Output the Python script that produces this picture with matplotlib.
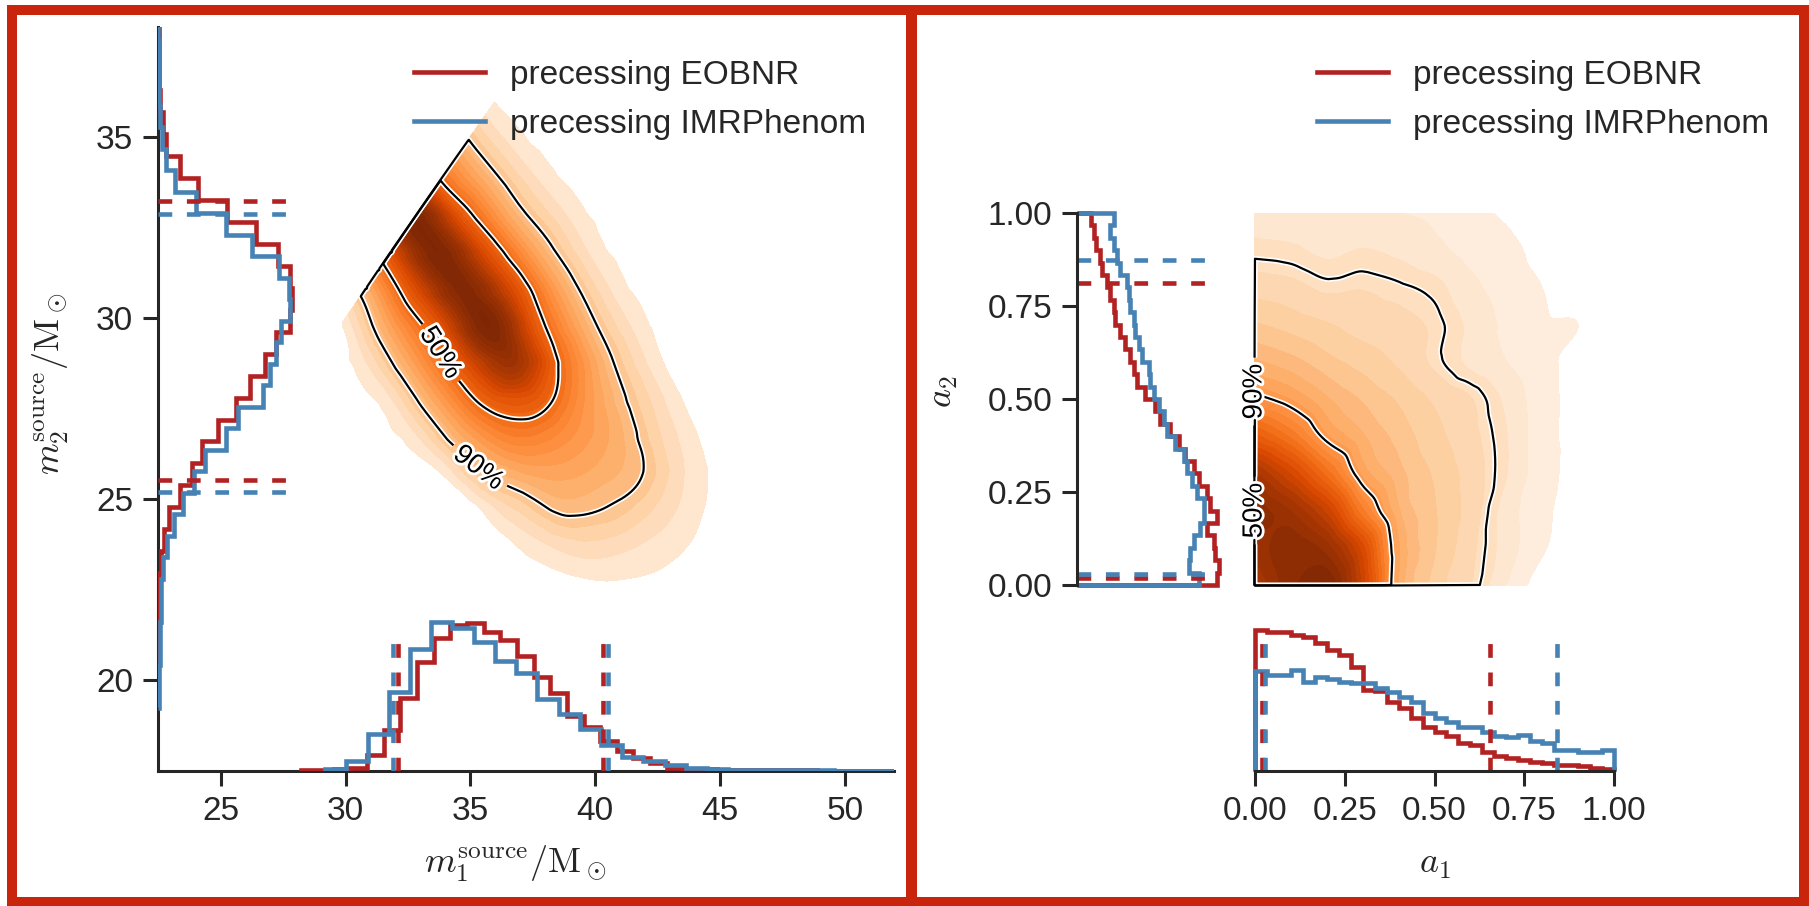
import numpy as np
import matplotlib
matplotlib.use("Agg")
import matplotlib.pyplot as plt
import matplotlib.tri as mtri
import matplotlib.patheffects as pe
from matplotlib.colors import PowerNorm
from matplotlib.lines import Line2D
from matplotlib.patches import Rectangle

plt.rcParams["font.family"] = ["Liberation Sans", "DejaVu Sans"]
plt.rcParams["mathtext.fontset"] = "cm"
plt.rcParams["font.size"] = 24

RED = "#B22222"
BLUE = "#4682B4"
INK = "#262626"
BORDER = "#C9250C"
labels = ["precessing EOBNR", "precessing IMRPhenom"]

# ---- masses: 1d histograms (counts) ----
m1_start_eob, m1_width_eob = 28.19, 0.667
m1_counts_eob = [2, 3, 5, 10, 47, 119, 212, 317, 387, 425, 432, 407, 382, 337,
                 275, 227, 162, 129, 87, 59, 37, 22, 10, 7, 5, 4, 3, 3, 2, 2,
                 2, 1, 1, 1, 1, 1]
m1_start_imr, m1_width_imr = 29.18, 0.85
m1_counts_imr = [5, 29, 109, 232, 357, 435, 417, 377, 322, 287, 209, 167, 122,
                 77, 42, 29, 17, 9, 5, 4, 3, 3, 2, 2, 1, 1, 1]
m2_start_eob, m2_width_eob = 19.32, 0.606
m2_counts_eob = [1, 1, 1, 2, 2, 3, 10, 17, 32, 65, 103, 133, 180, 235, 275, 320,
                 355, 395, 403, 395, 360, 293, 207, 120, 65, 25, 15, 6, 4, 3, 2]
m2_start_imr, m2_width_imr = 19.236, 0.594
m2_counts_imr = [3, 4, 5, 5, 10, 10, 15, 27, 47, 75, 107, 140, 203, 240, 315,
                 335, 355, 370, 397, 393, 362, 283, 203, 115, 50, 23, 13, 5, 4,
                 3, 2, 1]
m1_bounds_eob = [32.1, 40.3]
m1_bounds_imr = [31.9, 40.5]
m2_bounds_eob = [25.53, 33.23]
m2_bounds_imr = [25.21, 32.88]

# ---- masses: 2d density on a (m1+m2, m1-m2) grid, peak = 1 ----
msum_nodes = [57.5, 59.5, 61.5, 63.5, 65.5, 67.5, 69.5, 71.5, 73.5]
mdiff_nodes = [-2, 0, 2, 4, 6, 8, 10, 12, 14, 16, 18, 20, 22]
mass_density = [
    [0.00, 0.02, 0.22, 0.60, 1.00, 0.52, 0.22, 0.05, 0.00],
    [0.00, 0.02, 0.22, 0.60, 1.00, 0.52, 0.22, 0.05, 0.00],
    [0.00, 0.06, 0.28, 0.62, 1.00, 0.58, 0.24, 0.06, 0.00],
    [0.00, 0.06, 0.30, 0.60, 0.98, 0.62, 0.25, 0.07, 0.00],
    [0.00, 0.06, 0.30, 0.62, 1.00, 0.64, 0.27, 0.08, 0.00],
    [0.00, 0.03, 0.27, 0.56, 0.85, 0.55, 0.26, 0.07, 0.00],
    [0.00, 0.00, 0.20, 0.42, 0.56, 0.46, 0.22, 0.06, 0.00],
    [0.00, 0.00, 0.11, 0.28, 0.36, 0.32, 0.18, 0.05, 0.00],
    [0.00, 0.00, 0.06, 0.20, 0.26, 0.25, 0.14, 0.03, 0.00],
    [0.00, 0.00, 0.02, 0.10, 0.17, 0.19, 0.10, 0.02, 0.00],
    [0.00, 0.00, 0.00, 0.03, 0.07, 0.09, 0.06, 0.01, 0.00],
    [0.00, 0.00, 0.00, 0.00, 0.02, 0.03, 0.02, 0.00, 0.00],
    [0.00, 0.00, 0.00, 0.00, 0.00, 0.00, 0.00, 0.00, 0.00],
]
mass_levels = {"lowest": 0.03, "90%": 0.18, "50%": 0.50}

# ---- spins: 1d histograms (30 bins on [0, 1]) ----
a1_counts_eob = [423, 418, 417, 408, 403, 383, 363, 348, 313, 243, 240, 208,
                 188, 158, 133, 118, 106, 83, 78, 56, 46, 40, 33, 28, 23, 18,
                 18, 16, 8, 6]
a1_counts_imr = [300, 288, 288, 303, 268, 283, 276, 268, 263, 263, 250, 236,
                 223, 206, 173, 158, 146, 133, 133, 116, 106, 103, 108, 90, 83,
                 63, 63, 56, 56, 63]
a2_counts_eob = [420, 425, 415, 410, 390, 420, 400, 390, 365, 350, 325, 305,
                 280, 250, 235, 205, 180, 170, 160, 145, 130, 115, 110, 98, 90,
                 75, 70, 58, 50, 42]
a2_counts_imr = [365, 335, 340, 350, 370, 380, 380, 360, 345, 330, 320, 295,
                 270, 260, 245, 230, 220, 215, 195, 185, 175, 170, 160, 155,
                 150, 130, 120, 110, 100, 110]
a1_bounds_eob = [0.019, 0.654]
a1_bounds_imr = [0.028, 0.842]
a2_bounds_eob = [0.02, 0.811]
a2_bounds_imr = [0.03, 0.875]

# ---- spins: 2d density, rows a2 = 0..1, cols a1 = 0..1 ----
spin_nodes = [0.0, 0.1, 0.2, 0.3, 0.4, 0.5, 0.6, 0.7, 0.8, 0.9, 1.0]
spin_density = [
    [0.85, 0.95, 1.00, 0.75, 0.33, 0.20, 0.14, 0.06, 0.00, 0.00, 0.0],
    [0.90, 0.95, 0.90, 0.70, 0.34, 0.22, 0.15, 0.08, 0.025, 0.00, 0.0],
    [0.95, 0.88, 0.75, 0.50, 0.30, 0.22, 0.16, 0.08, 0.03, 0.005, 0.0],
    [0.85, 0.72, 0.55, 0.36, 0.27, 0.21, 0.16, 0.10, 0.035, 0.01, 0.0],
    [0.62, 0.52, 0.38, 0.30, 0.24, 0.19, 0.15, 0.10, 0.035, 0.01, 0.0],
    [0.42, 0.37, 0.30, 0.25, 0.21, 0.17, 0.14, 0.09, 0.035, 0.01, 0.0],
    [0.30, 0.27, 0.23, 0.20, 0.17, 0.13, 0.09, 0.06, 0.03, 0.01, 0.0],
    [0.22, 0.20, 0.18, 0.16, 0.15, 0.13, 0.09, 0.05, 0.025, 0.02, 0.0],
    [0.16, 0.15, 0.13, 0.135, 0.125, 0.11, 0.07, 0.04, 0.02, 0.005, 0.0],
    [0.11, 0.105, 0.09, 0.10, 0.09, 0.07, 0.045, 0.03, 0.01, 0.00, 0.0],
    [0.08, 0.075, 0.07, 0.07, 0.06, 0.05, 0.03, 0.015, 0.00, 0.00, 0.0],
]
spin_levels = {"lowest": 0.02, "90%": 0.12, "50%": 0.40}

W, H = 1809, 906
fig = plt.figure(figsize=(W / 100, H / 100), dpi=100)


def box(x0, x1, y0, y1):
    # pixel box (top-left origin) -> figure fraction rect
    return [x0 / W, 1 - y1 / H, (x1 - x0) / W, (y1 - y0) / H]


def edges(start, width, n):
    return start + width * np.arange(n + 1)


def grid_tri(xn, yn):
    ny, nx = xn.shape
    tris = []
    for j in range(ny - 1):
        for i in range(nx - 1):
            k = j * nx + i
            tris.append([k, k + 1, k + nx + 1])
            tris.append([k, k + nx + 1, k + nx])
    return mtri.Triangulation(xn.ravel(), yn.ravel(), np.array(tris))


def smooth(xn, yn, z, xf, yf):
    interp = mtri.CubicTriInterpolator(grid_tri(xn, yn), np.asarray(z).ravel(), kind="geom")
    return np.clip(interp(xf, yf).filled(0.0), 0, None)


def style_axis(a, show):
    for side in ["left", "right", "top", "bottom"]:
        a.spines[side].set_visible(side in show)
        a.spines[side].set_linewidth(2.2)
        a.spines[side].set_color(INK)
    a.tick_params(direction="out", length=10.8, width=2.2, color=INK,
                  labelcolor=INK, labelsize=24, pad=7)
    a.patch.set_alpha(0)


def density(a, X, Y, F, lv, gamma, manual):
    fill = list(np.linspace(lv["lowest"], 1.0, 26)) + [5.0]
    a.contourf(X, Y, F, levels=fill, cmap="Oranges",
               norm=PowerNorm(gamma, vmin=0, vmax=1), zorder=1)
    cs = a.contour(X, Y, F, levels=[lv["90%"], lv["50%"]], colors="k",
                   linewidths=1.6, zorder=3)
    cs.set_path_effects([pe.Stroke(linewidth=4.0, foreground="w"), pe.Normal()])
    cs.set_clip_on(False)
    txt = a.clabel(cs, fmt={lv["90%"]: "90%", lv["50%"]: "50%"}, manual=manual,
                   inline=True, fontsize=20, inline_spacing=6)
    for t in txt:
        t.set_path_effects([pe.withStroke(linewidth=4, foreground="w")])
        t.set_zorder(4)
        t.set_clip_on(False)
    return txt


LW = 3.3
dash = (0, (3.0, 3.2))
handles = [Line2D([], [], color=RED, lw=LW), Line2D([], [], color=BLUE, lw=LW)]

# ================= left panel: masses =================
ax = fig.add_axes(box(158, 894, 27, 771))
ax.set_xlim(22.48, 51.97)
ax.set_ylim(17.49, 38.04)
style_axis(ax, ["left", "bottom"])
ax.set_xticks([25, 30, 35, 40, 45, 50])
ax.set_yticks([20, 25, 30, 35])

U, V = np.meshgrid(msum_nodes, mdiff_nodes)
m1f, m2f = np.meshgrid(np.linspace(27, 47, 601), np.linspace(19, 38, 571))
Fm = smooth((U + V) / 2, (U - V) / 2, mass_density, m1f, m2f)
Fm[m2f > m1f] = 0.0
density(ax, m1f, m2f, Fm, mass_levels, 0.7, [(35.45, 25.96), (34.17, 29.17)])

ax_m1 = ax.twinx()
ax_m1.set_ylim(0, 2172)
ax_m1.axis("off")
ax_m1.stairs(m1_counts_eob, edges(m1_start_eob, m1_width_eob, len(m1_counts_eob)), color=RED, lw=LW)
ax_m1.vlines(m1_bounds_eob, 0, 410, colors=RED, linestyles=dash, lw=LW)
ax_m1.stairs(m1_counts_imr, edges(m1_start_imr, m1_width_imr, len(m1_counts_imr)), color=BLUE, lw=LW)
ax_m1.vlines(m1_bounds_imr, 0, 410, colors=BLUE, linestyles=dash, lw=LW)

ax_m2 = ax.twiny()
ax_m2.set_xlim(0, 2208)
ax_m2.axis("off")
ax_m2.stairs(m2_counts_eob, edges(m2_start_eob, m2_width_eob, len(m2_counts_eob)),
             orientation="horizontal", color=RED, lw=LW)
ax_m2.hlines(m2_bounds_eob, 0, 412, colors=RED, linestyles=dash, lw=LW)
ax_m2.stairs(m2_counts_imr, edges(m2_start_imr, m2_width_imr, len(m2_counts_imr)),
             orientation="horizontal", color=BLUE, lw=LW)
ax_m2.hlines(m2_bounds_imr, 0, 412, colors=BLUE, linestyles=dash, lw=LW)

ax.set_xlabel(r"$m_1^{\rm source}/{\rm M}_\odot$", fontsize=26, color=INK)
ax.xaxis.set_label_coords(0.486, -0.098)
ax.set_ylabel(r"$m_2^{\rm source}/{\rm M}_\odot$", fontsize=26, color=INK)
ax.yaxis.set_label_coords(-0.118, 0.52)

# ================= right panel: spins =================
ax_a2 = fig.add_axes(box(1077, 1227, 213, 585))
ax_a2.set_ylim(0, 1)
ax_a2.set_xlim(0, 450)
style_axis(ax_a2, ["left"])
ax_a2.set_xticks([])
ax_a2.set_yticks([0, 0.25, 0.5, 0.75, 1.0])
ax_a2.set_yticklabels(["%.2f" % t for t in [0, 0.25, 0.5, 0.75, 1.0]])
spin_edges = np.linspace(0, 1, len(a1_counts_eob) + 1)
ax_a2.stairs(a2_counts_eob, spin_edges, orientation="horizontal", color=RED, lw=LW, clip_on=False)
ax_a2.hlines(a2_bounds_eob, 0, 410, colors=RED, linestyles=dash, lw=LW)
ax_a2.stairs(a2_counts_imr, spin_edges, orientation="horizontal", color=BLUE, lw=LW, clip_on=False)
ax_a2.hlines(a2_bounds_imr, 0, 410, colors=BLUE, linestyles=dash, lw=LW)
ax_a2.set_ylabel(r"$a_2$", fontsize=26, color=INK)
ax_a2.yaxis.set_label_coords(-0.78, 0.52)

ax_a1 = fig.add_axes(box(1255, 1614, 621, 771))
ax_a1.set_xlim(0, 1)
ax_a1.set_ylim(0, 450)
style_axis(ax_a1, ["bottom"])
ax_a1.set_yticks([])
ax_a1.set_xticks([0, 0.25, 0.5, 0.75, 1.0])
ax_a1.set_xticklabels(["%.2f" % t for t in [0, 0.25, 0.5, 0.75, 1.0]])
ax_a1.stairs(a1_counts_eob, spin_edges, color=RED, lw=LW, clip_on=False)
ax_a1.vlines(a1_bounds_eob, 0, 410, colors=RED, linestyles=dash, lw=LW)
ax_a1.stairs(a1_counts_imr, spin_edges, color=BLUE, lw=LW, clip_on=False)
ax_a1.vlines(a1_bounds_imr, 0, 410, colors=BLUE, linestyles=dash, lw=LW)
ax_a1.set_xlabel(r"$a_1$", fontsize=26, color=INK)
ax_a1.xaxis.set_label_coords(0.5, -0.5)

ax_s = fig.add_axes(box(1255 - 7.2, 1614, 213, 585 + 7.4))
ax_s.set_xlim(-0.02, 1.0)
ax_s.set_ylim(-0.02, 1.0)
ax_s.axis("off")
A1n, A2n = np.meshgrid(spin_nodes, spin_nodes)
a1f, a2f = np.meshgrid(np.linspace(-0.02, 1.0, 511), np.linspace(-0.02, 1.0, 511))
Fs = smooth(A1n, A2n, spin_density, a1f, a2f)
Fs[(a1f < 0) | (a2f < 0)] = 0.0
txt = density(ax_s, a1f, a2f, Fs, spin_levels, 0.85, [(0.0, 0.52), (0.0005, 0.2)])
for t in txt:
    # labels on the a1 = 0 edge read bottom to top
    t.set_transform_rotates_text(False)
    t.set_rotation(90)

# ================= legends and frames =================
for x0 in [414, 1317]:
    fig.legend(handles, labels, loc="upper left", bbox_to_anchor=(x0 / W, 1 - 60 / H),
               bbox_transform=fig.transFigure, frameon=False, borderpad=0,
               borderaxespad=0, handlelength=2.13, handletextpad=0.75,
               labelspacing=0.53, fontsize=24, labelcolor=INK)

for x0, x1 in [(12, 911.5), (911.5, 1804)]:
    fig.add_artist(Rectangle((x0 / W, 1 - 902 / H), (x1 - x0) / W, (902 - 9.5) / H,
                             transform=fig.transFigure, fill=False, lw=7.2,
                             edgecolor=BORDER, zorder=10))

fig.savefig("out.png", dpi=100)
